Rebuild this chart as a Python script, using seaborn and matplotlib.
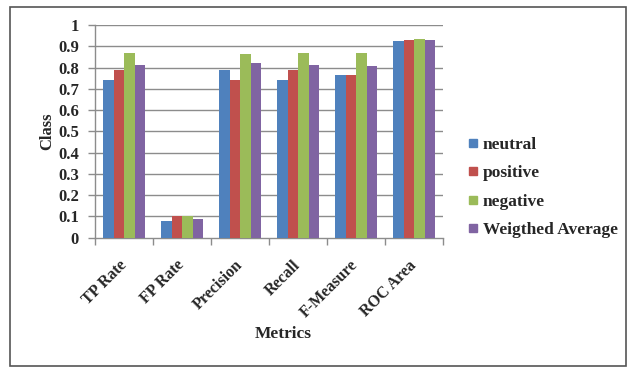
import matplotlib
matplotlib.use("Agg")
import matplotlib.pyplot as plt
from matplotlib.patches import Rectangle
from matplotlib.lines import Line2D
from matplotlib.transforms import ScaledTranslation
import seaborn as sns
import pandas as pd

metrics = ["TP Rate", "FP Rate", "Precision", "Recall", "F-Measure", "ROC Area"]
classes = ["neutral", "positive", "negative", "Weigthed Average"]
neutral = [0.74, 0.08, 0.79, 0.74, 0.765, 0.925]
positive = [0.79, 0.10, 0.74, 0.79, 0.765, 0.929]
negative = [0.87, 0.10, 0.865, 0.87, 0.87, 0.934]
weighted = [0.81, 0.09, 0.82, 0.81, 0.807, 0.931]
yticks = [0, 0.1, 0.2, 0.3, 0.4, 0.5, 0.6, 0.7, 0.8, 0.9, 1]
ytick_labels = ["0", "0.1", "0.2", "0.3", "0.4", "0.5", "0.6", "0.7", "0.8", "0.9", "1"]
colors = ["#4F81BD", "#C0504D", "#9BBB59", "#8064A2"]

rows = []
for cls, vals in zip(classes, [neutral, positive, negative, weighted]):
    for m, v in zip(metrics, vals):
        rows.append({"Metrics": m, "Class": cls, "Value": v})
df = pd.DataFrame(rows)

sns.set_style("white")
plt.rcParams["font.family"] = ["Liberation Serif", "DejaVu Serif"]
plt.rcParams["font.weight"] = "bold"

fig = plt.figure(figsize=(6.29, 3.69), dpi=100)
ax = fig.add_axes([0.1518, 0.3558, 0.7043 - 0.1518, 0.9322 - 0.3558])

sns.barplot(data=df, x="Metrics", y="Value", hue="Class", order=metrics,
            hue_order=classes, palette=colors, width=0.727, saturation=1,
            errorbar=None, ax=ax, legend=False, zorder=3, linewidth=0)

grid_color = "#8C8C8C"
ax.set_ylim(0, 1)
ax.set_xlim(-0.5, len(metrics) - 0.5)
ax.set_yticks(yticks)
ax.set_yticklabels(ytick_labels, fontsize=12, fontweight="bold")
for y in yticks[1:]:
    ax.axhline(y, color=grid_color, lw=1.0, zorder=1)

ax.set_xticks(range(len(metrics)))
ax.set_xticklabels(metrics, rotation=45, ha="right", rotation_mode="anchor",
                   fontsize=11.5, fontweight="bold")
ax.set_xticks([i - 0.5 for i in range(len(metrics) + 1)], minor=True)
ax.tick_params(axis="x", which="major", length=0, pad=12)
ax.tick_params(axis="x", which="minor", length=5, width=1, color=grid_color,
               direction="out", bottom=True)
ax.tick_params(axis="y", which="major", length=5, width=1, color=grid_color,
               direction="out", left=True, pad=7)

# nudge the rotated category labels so they end under each group's centre
shift = ScaledTranslation(-6 / 100, -3 / 100, fig.dpi_scale_trans)
for tick in ax.xaxis.get_major_ticks():
    tick.label1.set_transform(tick.label1.get_transform() + shift)

for side in ["top", "right"]:
    ax.spines[side].set_visible(False)
for side in ["left", "bottom"]:
    ax.spines[side].set_color(grid_color)
    ax.spines[side].set_linewidth(1.0)

ax.set_ylabel("Class", fontsize=12, fontweight="bold", labelpad=2)
ax.set_xlabel("Metrics", fontsize=12.5, fontweight="bold")
ax.xaxis.set_label_coords(0.54, -0.415)

handles = [Line2D([0], [0], marker="s", linestyle="", markersize=6,
                  markerfacecolor=c, markeredgecolor=c) for c in colors]
fig.legend(handles, classes, loc="center left", bbox_to_anchor=(0.732, 0.492),
           frameon=False, prop={"family": "Liberation Serif", "weight": "bold", "size": 12.5},
           labelspacing=0.70, handlelength=0.6, handletextpad=0.3, borderaxespad=0)

fig.patches.append(Rectangle((10 / 629, 3 / 369), 616 / 629, 359 / 369,
                             transform=fig.transFigure, fill=False,
                             edgecolor="#555555", lw=1.2))

fig.savefig("out.png", dpi=100, facecolor="white")
